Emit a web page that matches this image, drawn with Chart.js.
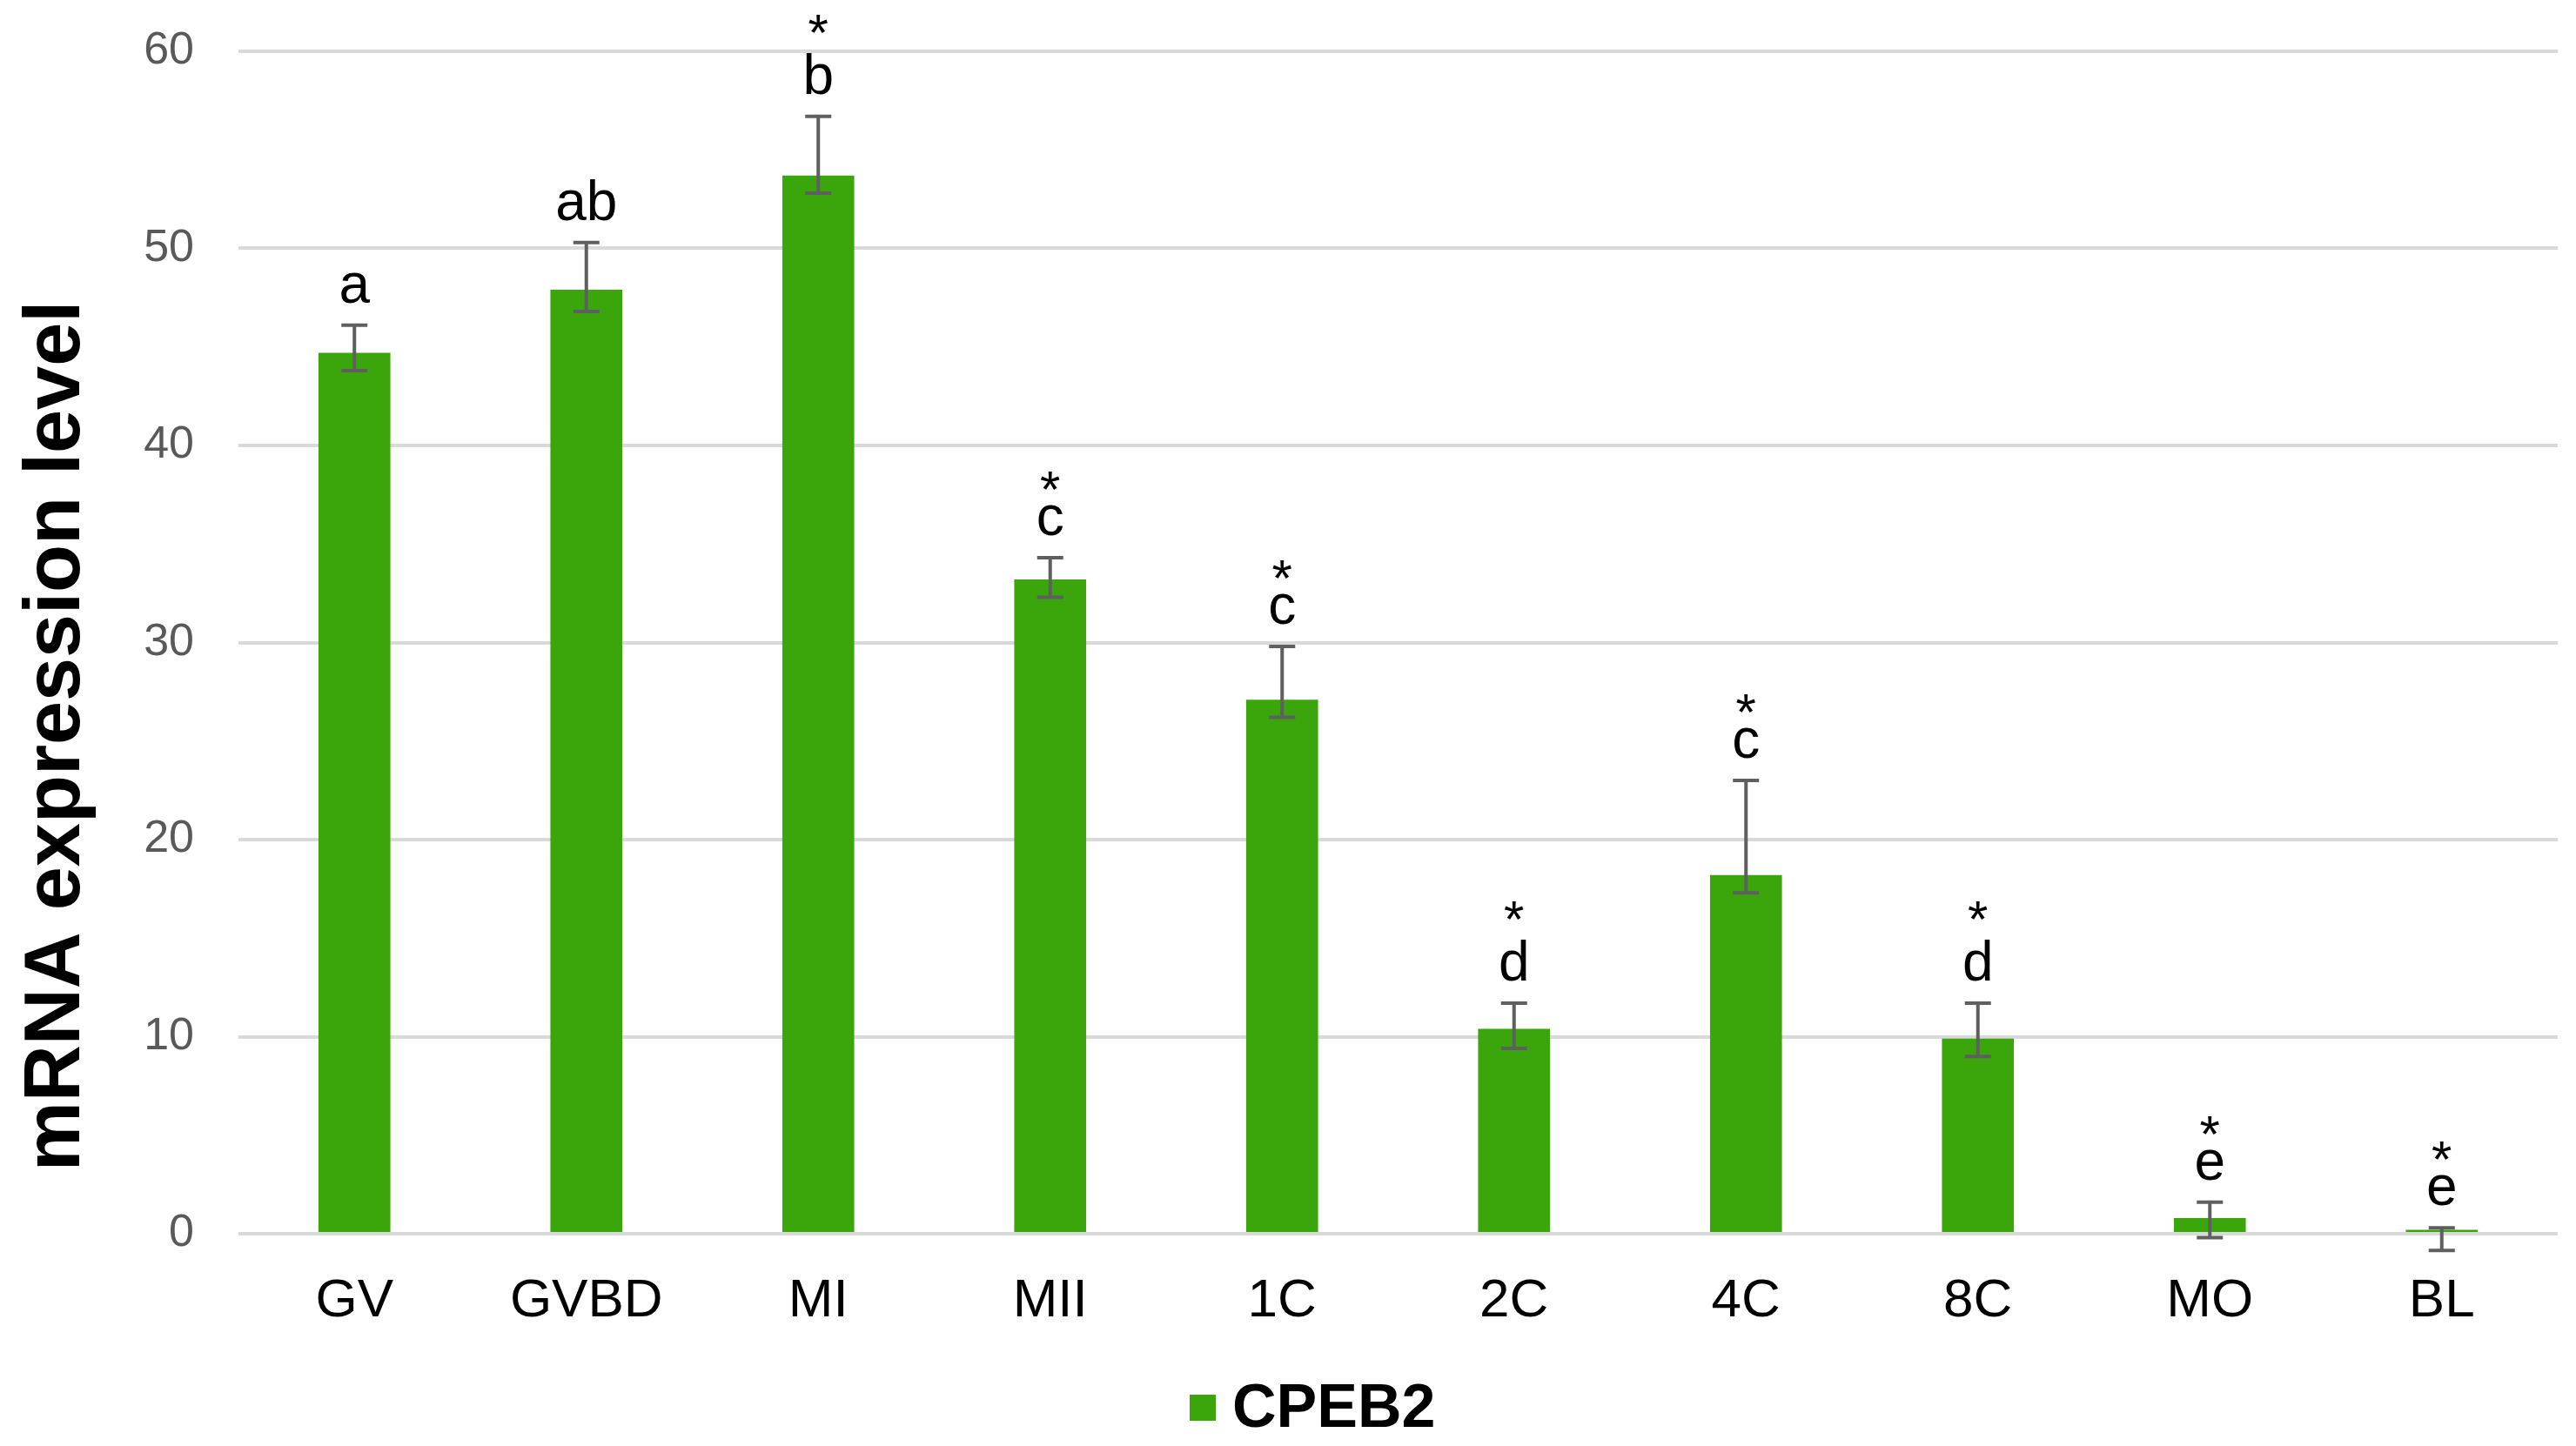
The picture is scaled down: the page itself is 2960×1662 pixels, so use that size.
<!DOCTYPE html>
<html>
<head>
<meta charset="utf-8">
<script src="https://cdn.jsdelivr.net/npm/chart.js@4.4.1/dist/chart.umd.min.js"></script>
<style>
  html, body { margin: 0; padding: 0; background: #ffffff; }
  canvas { display: block; }
</style>
</head>
<body>
<canvas id="c" width="2960" height="1662"></canvas>
<script>
// ---- data ----
const categories = ['GV', 'GVBD', 'MI', 'MII', '1C', '2C', '4C', '8C', 'MO', 'BL'];
const cpeb2Values = [44.7, 47.9, 53.7, 33.2, 27.1, 10.4, 18.2, 9.9, 0.8, 0.2];
const errPlus  = [1.4, 2.4, 3.0, 1.1, 2.7, 1.3, 4.8, 1.8, 0.8, 0.1];
const errMinus = [0.9, 1.1, 0.9, 0.9, 0.9, 1.0, 0.9, 0.9, 1.0, 1.05];
const groupLetters = ['a', 'ab', 'b', 'c', 'c', 'd', 'c', 'd', 'e', 'e'];
const starMarks = ['', '', '*', '*', '*', '*', '*', '*', '*', '*'];
const seriesName = 'CPEB2';
const yTicks = [0, 10, 20, 30, 40, 50, 60];
const yTitle = 'mRNA expression level';

const BAR_GREEN = '#3aa60c';
const FONT = '"Liberation Sans", Arial, sans-serif';

const errorBarPlugin = {
  id: 'errorBars',
  afterDatasetsDraw(chart) {
    const ctx = chart.ctx;
    const y = chart.scales.y;
    const meta = chart.getDatasetMeta(0);
    ctx.save();
    ctx.strokeStyle = '#5f5f5f';
    ctx.lineWidth = 4;
    const cap = 15;
    meta.data.forEach((bar, i) => {
      const v = cpeb2Values[i];
      const yt = y.getPixelForValue(v + errPlus[i]);
      const yb = y.getPixelForValue(v - errMinus[i]);
      const x = bar.x;
      ctx.beginPath();
      ctx.moveTo(x, yt); ctx.lineTo(x, yb);
      ctx.moveTo(x - cap, yt); ctx.lineTo(x + cap, yt);
      ctx.moveTo(x - cap, yb); ctx.lineTo(x + cap, yb);
      ctx.stroke();
      ctx.fillStyle = '#000000';
      ctx.textAlign = 'center';
      ctx.textBaseline = 'alphabetic';
      ctx.font = '64px ' + FONT;
      const base = yt - 26;
      ctx.fillText(groupLetters[i], x, base);
      if (starMarks[i]) {
        ctx.font = '60px ' + FONT;
        const hasAsc = /[bdl]/.test(groupLetters[i]);
        ctx.fillText(starMarks[i], x, base - (hasAsc ? 50 : 32));
      }
    });
    ctx.restore();
  }
};

const textPlugin = {
  id: 'yTitleLegend',
  afterDraw(chart) {
    const ctx = chart.ctx;
    ctx.save();
    // y-axis title
    ctx.translate(66, 846);
    ctx.rotate(-Math.PI / 2);
    ctx.fillStyle = '#000000';
    ctx.font = 'bold 90px ' + FONT;
    ctx.textAlign = 'center';
    ctx.textBaseline = 'middle';
    ctx.fillText(yTitle, 0, 0);
    ctx.restore();
    // legend
    ctx.save();
    const ds = chart.data.datasets[0];
    const boxX = 1367, boxSize = 30, cy = 1618;
    ctx.fillStyle = ds.backgroundColor;
    ctx.fillRect(boxX, cy - boxSize / 2, boxSize, boxSize);
    ctx.fillStyle = '#000000';
    ctx.font = 'bold 70px ' + FONT;
    ctx.textAlign = 'left';
    ctx.textBaseline = 'middle';
    ctx.fillText(ds.label, boxX + boxSize + 19, cy + 3);
    ctx.restore();
  }
};

new Chart(document.getElementById('c'), {
  type: 'bar',
  data: {
    labels: categories,
    datasets: [{
      label: seriesName,
      data: cpeb2Values,
      backgroundColor: BAR_GREEN,
      borderWidth: 0,
      categoryPercentage: 1.0,
      barPercentage: 0.31
    }]
  },
  options: {
    responsive: false,
    devicePixelRatio: 1,
    animation: false,
    layout: { padding: { left: 0, right: 21, top: 59, bottom: 0 } },
    plugins: {
      tooltip: { enabled: false },
      legend: { display: false }
    },
    scales: {
      x: {
        grid: { display: false, drawTicks: false },
        border: { display: false },
        ticks: {
          color: '#000000',
          padding: 41,
          font: { family: FONT, size: 62 }
        },
        afterFit(scale) { scale.height = 244; scale.paddingLeft = 0; scale.paddingRight = 0; }
      },
      y: {
        min: 0,
        max: 60,
        afterBuildTicks(scale) { scale.ticks = yTicks.map(v => ({ value: v })); },
        grid: { color: '#d9d9d9', lineWidth: 4, drawTicks: false },
        border: { display: false },
        ticks: {
          color: '#595959',
          padding: 51,
          font: { family: FONT, size: 52 }
        },
        afterFit(scale) { scale.width = 274; scale.paddingTop = 0; scale.paddingBottom = 0; }
      }
    }
  },
  plugins: [errorBarPlugin, textPlugin]
});
</script>
</body>
</html>
